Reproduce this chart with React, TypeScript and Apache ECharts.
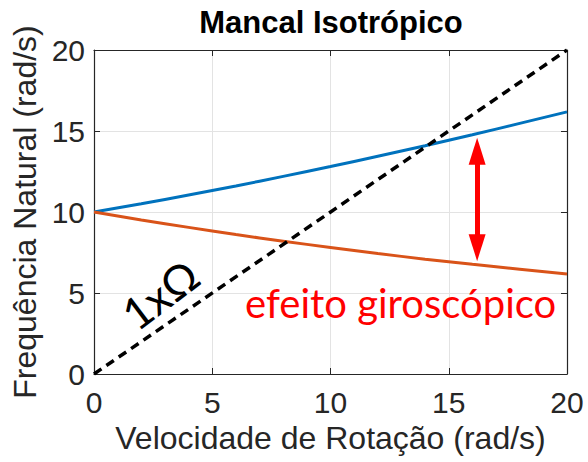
import React, { useEffect, useRef } from "react";
import * as echarts from "echarts";

const omega = [0, 2, 4, 6, 8, 10, 12, 14, 16, 18, 20];
const forwardWhirl = [10, 10.51, 11.05, 11.61, 12.2, 12.81, 13.44, 14.09, 14.77, 15.47, 16.18];
const backwardWhirl = [10, 9.51, 9.05, 8.61, 8.2, 7.81, 7.44, 7.09, 6.77, 6.47, 6.18];
const syncX = [0, 20];
const syncY = [0, 20];
const arrowX = 16.2;
const arrowTop = 13.75;
const arrowBottom = 7.8;

const titleText = "Mancal Isotrópico";
const xName = "Velocidade de Rotação (rad/s)";
const yName = "Frequência Natural (rad/s)";

export default function App() {
  const ref = useRef<HTMLDivElement>(null);
  useEffect(() => {
    if (!ref.current) return;
    const chart = echarts.init(ref.current, undefined, { renderer: "svg" });
    const axisColor = "#262626";
    const tickFont = "Liberation Sans";
    const baseAxis = (isX: boolean) => ({
      type: "value",
      min: 0,
      max: 20,
      interval: 5,
      axisLine: { show: true, onZero: false, lineStyle: { color: axisColor, width: 1.2 } },
      axisTick: { show: true, inside: true, length: 6, lineStyle: { color: axisColor } },
      splitLine: { show: true, lineStyle: { color: "#e3e3e3", width: 1 } },
      axisLabel: {
        show: true,
        fontSize: 30,
        fontFamily: tickFont,
        color: axisColor,
        margin: isX ? 13 : 9,
      },
    });
    const mirrorAxis = (pos: string) => ({
      type: "value",
      min: 0,
      max: 20,
      interval: 5,
      position: pos,
      axisLine: { show: true, onZero: false, lineStyle: { color: axisColor, width: 1.2 } },
      axisTick: { show: true, inside: true, length: 6, lineStyle: { color: axisColor } },
      splitLine: { show: false },
      axisLabel: { show: false },
    });
    chart.setOption({
      animation: false,
      backgroundColor: "#ffffff",
      title: {
        text: titleText,
        left: 331,
        textAlign: "center",
        top: 7,
        padding: 0,
        textStyle: { fontFamily: "Liberation Sans", fontWeight: "bold", fontSize: 31, color: "#000000" },
      },
      grid: { left: 94, right: 21, top: 50, bottom: 88, containLabel: false },
      xAxis: [
        {
          ...baseAxis(true),
          position: "bottom",
          name: xName,
          nameLocation: "middle",
          nameGap: 48,
          nameTextStyle: { fontFamily: tickFont, fontSize: 32, color: axisColor },
        },
        mirrorAxis("top"),
      ],
      yAxis: [
        {
          ...baseAxis(false),
          position: "left",
          name: yName,
          nameLocation: "middle",
          nameGap: 53,
          nameTextStyle: { fontFamily: tickFont, fontSize: 32, color: axisColor },
        },
        mirrorAxis("right"),
      ],
      series: [
        {
          type: "line",
          data: omega.map((x, i) => [x, forwardWhirl[i]]),
          showSymbol: false,
          smooth: true,
          lineStyle: { color: "#0072BD", width: 3 },
          z: 3,
        },
        {
          type: "line",
          data: omega.map((x, i) => [x, backwardWhirl[i]]),
          showSymbol: false,
          smooth: true,
          lineStyle: { color: "#D95319", width: 3 },
          z: 3,
        },
        {
          type: "line",
          data: syncX.map((x, i) => [x, syncY[i]]),
          showSymbol: false,
          lineStyle: { color: "#000000", width: 3.5, type: [9, 6] },
          z: 4,
          markLine: {
            silent: true,
            symbol: ["triangle", "triangle"],
            symbolSize: [17, 27],
            label: { show: false },
            lineStyle: { color: "#ff0000", width: 5, type: "solid" },
            data: [[{ coord: [arrowX, arrowTop] }, { coord: [arrowX, arrowBottom] }]],
          },
        },
      ],
      graphic: [
        {
          type: "text",
          x: 245,
          y: 303,
          style: {
            text: "efeito giroscópico",
            fill: "#ff0000",
            fontFamily: "Lato",
            fontSize: 40,
            textAlign: "left",
            textVerticalAlign: "middle",
          },
          z: 10,
        },
        {
          type: "text",
          x: 160,
          y: 294,
          rotation: 0.646,
          style: {
            text: "1xΩ",
            fill: "#000000",
            fontFamily: "Lato",
            fontSize: 44,
            textAlign: "center",
            textVerticalAlign: "middle",
          },
          z: 10,
        },
      ],
    });
    return () => chart.dispose();
  }, []);
  return (
    <div
      ref={ref}
      style={{ position: "fixed", left: 0, top: 0, width: 588, height: 462 }}
    />
  );
}
